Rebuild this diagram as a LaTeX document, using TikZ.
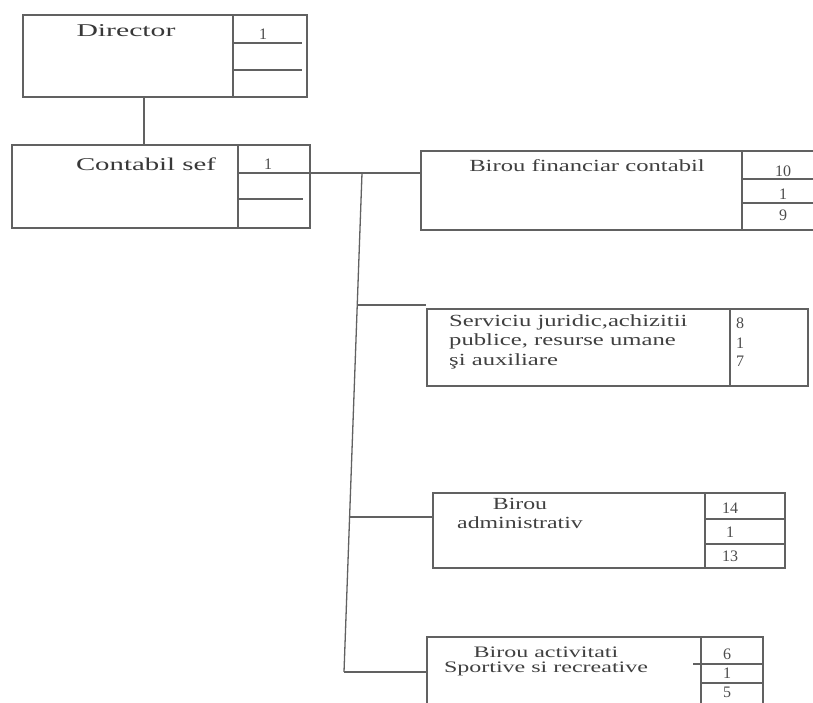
\documentclass[tikz,border=0pt]{standalone}
\usepackage{fontspec}
\usepackage{graphicx}
\setmainfont{Liberation Serif}
\newcommand\wt[3]{\scalebox{#1}[1]{\begin{tabular}{@{}#2@{}}#3\end{tabular}}}
\begin{document}
\begin{tikzpicture}[x=1pt,y=-1pt,
  ln/.style={draw=black!62,line width=1.3pt},
  box/.style={ln,rectangle,inner sep=0pt,fill=none},
  txt/.style={text=black!75,inner sep=0pt,font=\fontsize{17}{19.5}\selectfont},
  big/.style={text=black!78,inner sep=0pt,font=\fontsize{18}{20}\selectfont},
  num/.style={text=black!70,inner sep=0pt,font=\fontsize{16}{16}\selectfont}]
\clip (0,0) rectangle (813,703);
\fill[white] (0,0) rectangle (813,703);
% boxes
\node[box,minimum width=284pt,minimum height=82pt] (dir) at (165,56) {};
\node[box,minimum width=298pt,minimum height=83pt] (cs) at (161,186.5) {};
\node[box,minimum width=399pt,minimum height=79pt] (fin) at (620.5,190.5) {};
\node[box,minimum width=381pt,minimum height=77pt] (serv) at (617.5,347.5) {};
\node[box,minimum width=352pt,minimum height=75pt] (adm) at (609,530.5) {};
\node[box,minimum width=336pt,minimum height=83pt] (spo) at (595,678.5) {};
% dividers
\coordinate (d1) at (233,0); \coordinate (d2) at (238,0); \coordinate (d3) at (742,0);
\coordinate (d4) at (730,0); \coordinate (d5) at (705,0); \coordinate (d6) at (701,0);
\draw[ln] (d1 |- dir.north) -- (d1 |- dir.south);
\draw[ln] (d2 |- cs.north) -- (d2 |- cs.south);
\draw[ln] (d3 |- fin.north) -- (d3 |- fin.south);
\draw[ln] (d4 |- serv.north) -- (d4 |- serv.south);
\draw[ln] (d5 |- adm.north) -- (d5 |- adm.south);
\draw[ln] (d6 |- spo.north) -- (d6 |- spo.south);
% cell lines
\coordinate (r1) at (302,43); \coordinate (r2) at (302,70);
\draw[ln] (d1 |- r1) -- (r1);
\draw[ln] (d1 |- r2) -- (r2);
\coordinate (r3) at (0,173); \coordinate (r4) at (303,199);
\draw[ln] (d2 |- r3) -- (r3 -| cs.east);
\draw[ln] (d2 |- r4) -- (r4);
\coordinate (r5) at (0,179); \coordinate (r6) at (0,203);
\draw[ln] (d3 |- r5) -- (r5 -| fin.east);
\draw[ln] (d3 |- r6) -- (r6 -| fin.east);
\coordinate (r7) at (0,519); \coordinate (r8) at (0,544);
\draw[ln] (d5 |- r7) -- (r7 -| adm.east);
\draw[ln] (d5 |- r8) -- (r8 -| adm.east);
\coordinate (r9) at (693,664); \coordinate (r10) at (0,683);
\draw[ln] (r9) -- (r9 -| spo.east);
\draw[ln] (d6 |- r10) -- (r10 -| spo.east);
% texts
\node[big] (tdir) at (126,33) {\wt{1.65}{c}{Director}};
\node[big] (tcs) at (146,167) {\wt{1.6}{c}{Contabil sef}};
\node[txt] (tfin) at (587,168) {\wt{1.45}{c}{Birou financiar contabil}};
\node[txt,anchor=west] (tserv) at (449,342) {\wt{1.45}{l}{Serviciu juridic,achizitii\\publice, resurse umane\\şi auxiliare}};
\node[txt] (tadm) at (520,515) {\wt{1.4}{c}{Birou\\administrativ}};
\node[txt,font=\fontsize{16}{15}\selectfont] (tspo) at (546,662) {\wt{1.5}{c}{Birou activitati\\Sportive si recreative}};
% numbers
\node[num] (n1) at (263,34) {1};
\node[num] (n2) at (268,164) {1};
\node[num] (n3) at (783,171) {10};
\node[num] (n4) at (783,194) {1};
\node[num] (n5) at (783,215) {9};
\node[num] (n6) at (740,323) {8};
\node[num] (n7) at (740,343) {1};
\node[num] (n8) at (740,361) {7};
\node[num] (n9) at (730,508) {14};
\node[num] (n10) at (730,532) {1};
\node[num] (n11) at (730,556) {13};
\node[num] (n12) at (727,654) {6};
\node[num] (n13) at (727,673) {1};
\node[num] (n14) at (727,692) {5};
% connectors
\coordinate (c1) at (144,120);
\draw[ln] (c1 |- dir.south) -- (c1 |- cs.north);
\coordinate (tt) at (362,173);
\coordinate (tb) at (344,672);
\draw[ln] (tt -| cs.east) -- (tt -| fin.west);
\draw[ln] (tt) -- (tb);
\coordinate (b1) at (357,305);
\coordinate (b2) at (349.6,517);
\draw[ln] (b1) -- (b1 -| serv.west);
\draw[ln] (b2) -- (b2 -| adm.west);
\draw[ln] (tb) -- (tb -| spo.west);
\end{tikzpicture}
\end{document}
